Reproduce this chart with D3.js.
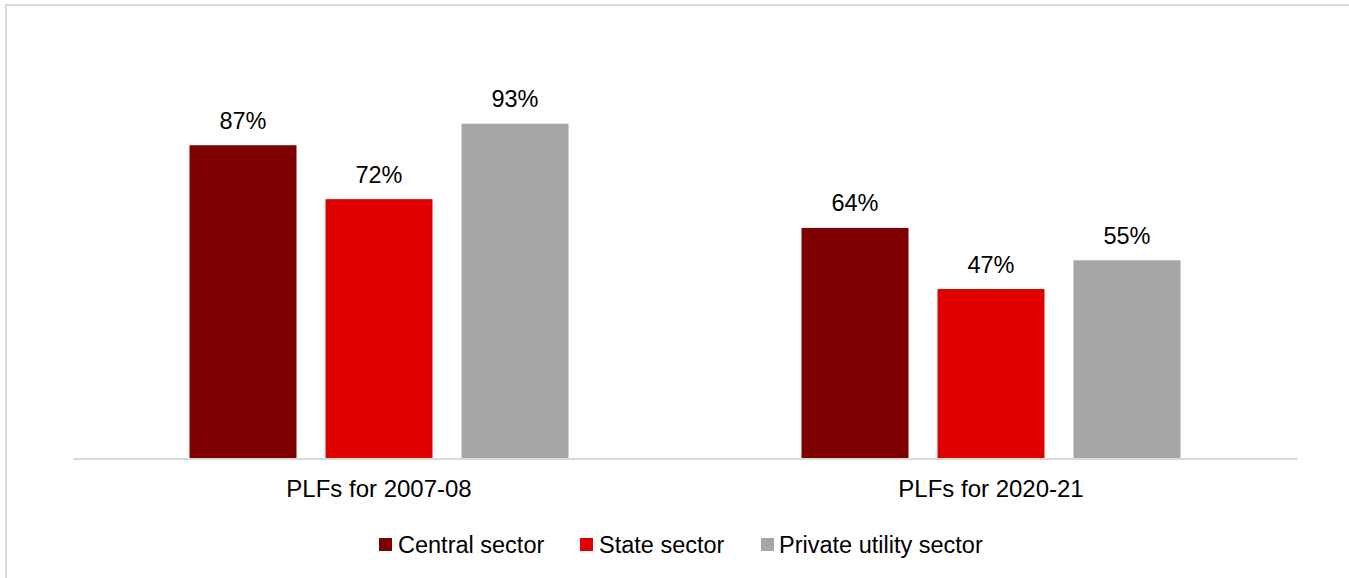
<!DOCTYPE html>
<html>
<head>
<meta charset="utf-8">
<script src="https://cdn.jsdelivr.net/npm/d3@7"></script>
<style>
  html, body { margin: 0; padding: 0; background: #fff; }
  svg { display: block; }
  text { font-family: "Liberation Sans", Arial, sans-serif; fill: #000; }
</style>
</head>
<body>
<svg id="chart" width="1349" height="578"></svg>
<script>
// Plant load factors by ownership sector
const categories = ["PLFs for 2007-08", "PLFs for 2020-21"];
const seriesNames = ["Central sector", "State sector", "Private utility sector"];
const centralValues = [87, 64];
const stateValues = [72, 47];
const privateValues = [93, 55];
const seriesColors = ["#7f0000", "#e00000", "#a6a6a6"];

const seriesValues = [centralValues, stateValues, privateValues];

const svg = d3.select("#chart");
const W = 1349, H = 578;

// outer frame (runs off the right and bottom edges)
svg.append("rect")
  .attr("x", 6).attr("y", 5)
  .attr("width", W + 10).attr("height", H + 10)
  .attr("fill", "#fff")
  .attr("stroke", "#d9d9d9")
  .attr("stroke-width", 2);

const plotLeft = 73, plotRight = 1297;
const baseY = 458;

const x0 = d3.scaleBand().domain(categories).range([plotLeft, plotRight]).padding(0);
const groupPad = 116.5;
const x1 = d3.scaleBand().domain(seriesNames)
  .range([groupPad, x0.bandwidth() - groupPad])
  .paddingInner(0.2132).paddingOuter(0);
const y = d3.scaleLinear().domain([0, 100]).range([baseY, 98.5]);

const rows = categories.map((c, ci) => ({
  category: c,
  values: seriesNames.map((s, si) => ({ series: s, value: seriesValues[si][ci], color: seriesColors[si] }))
}));

const groups = svg.append("g").selectAll("g").data(rows).join("g")
  .attr("transform", d => `translate(${x0(d.category)},0)`);

groups.selectAll("rect").data(d => d.values).join("rect")
  .attr("x", d => x1(d.series))
  .attr("y", d => y(d.value))
  .attr("width", x1.bandwidth())
  .attr("height", d => y(0) - y(d.value))
  .attr("fill", d => d.color);

groups.selectAll("text.val").data(d => d.values).join("text")
  .attr("class", "val")
  .attr("x", d => x1(d.series) + x1.bandwidth() / 2)
  .attr("y", d => y(d.value) - 16.5)
  .attr("text-anchor", "middle")
  .style("font-size", "23.5px")
  .text(d => d.value + "%");

// category axis
const xAxis = d3.axisBottom(x0).tickSize(0).tickPadding(0);
const axisG = svg.append("g").attr("transform", `translate(0,${baseY + 0.5})`).call(xAxis);
axisG.select(".domain").attr("stroke", "#d9d9d9").attr("stroke-width", 2);
axisG.selectAll(".tick text")
  .attr("y", 38).attr("dy", null)
  .style("font-size", "24px")
  .style("font-family", "'Liberation Sans', Arial, sans-serif")
  .attr("fill", "#000");

// legend
const legendItems = [
  { x: 379, tx: 398 },
  { x: 580, tx: 599 },
  { x: 761, tx: 779 }
];
const legend = svg.append("g");
seriesNames.forEach((s, i) => {
  legend.append("rect")
    .attr("x", legendItems[i].x).attr("y", 538)
    .attr("width", 13).attr("height", 13)
    .attr("fill", seriesColors[i]);
  legend.append("text")
    .attr("x", legendItems[i].tx).attr("y", 553)
    .style("font-size", "23.5px")
    .text(s);
});
</script>
</body>
</html>
